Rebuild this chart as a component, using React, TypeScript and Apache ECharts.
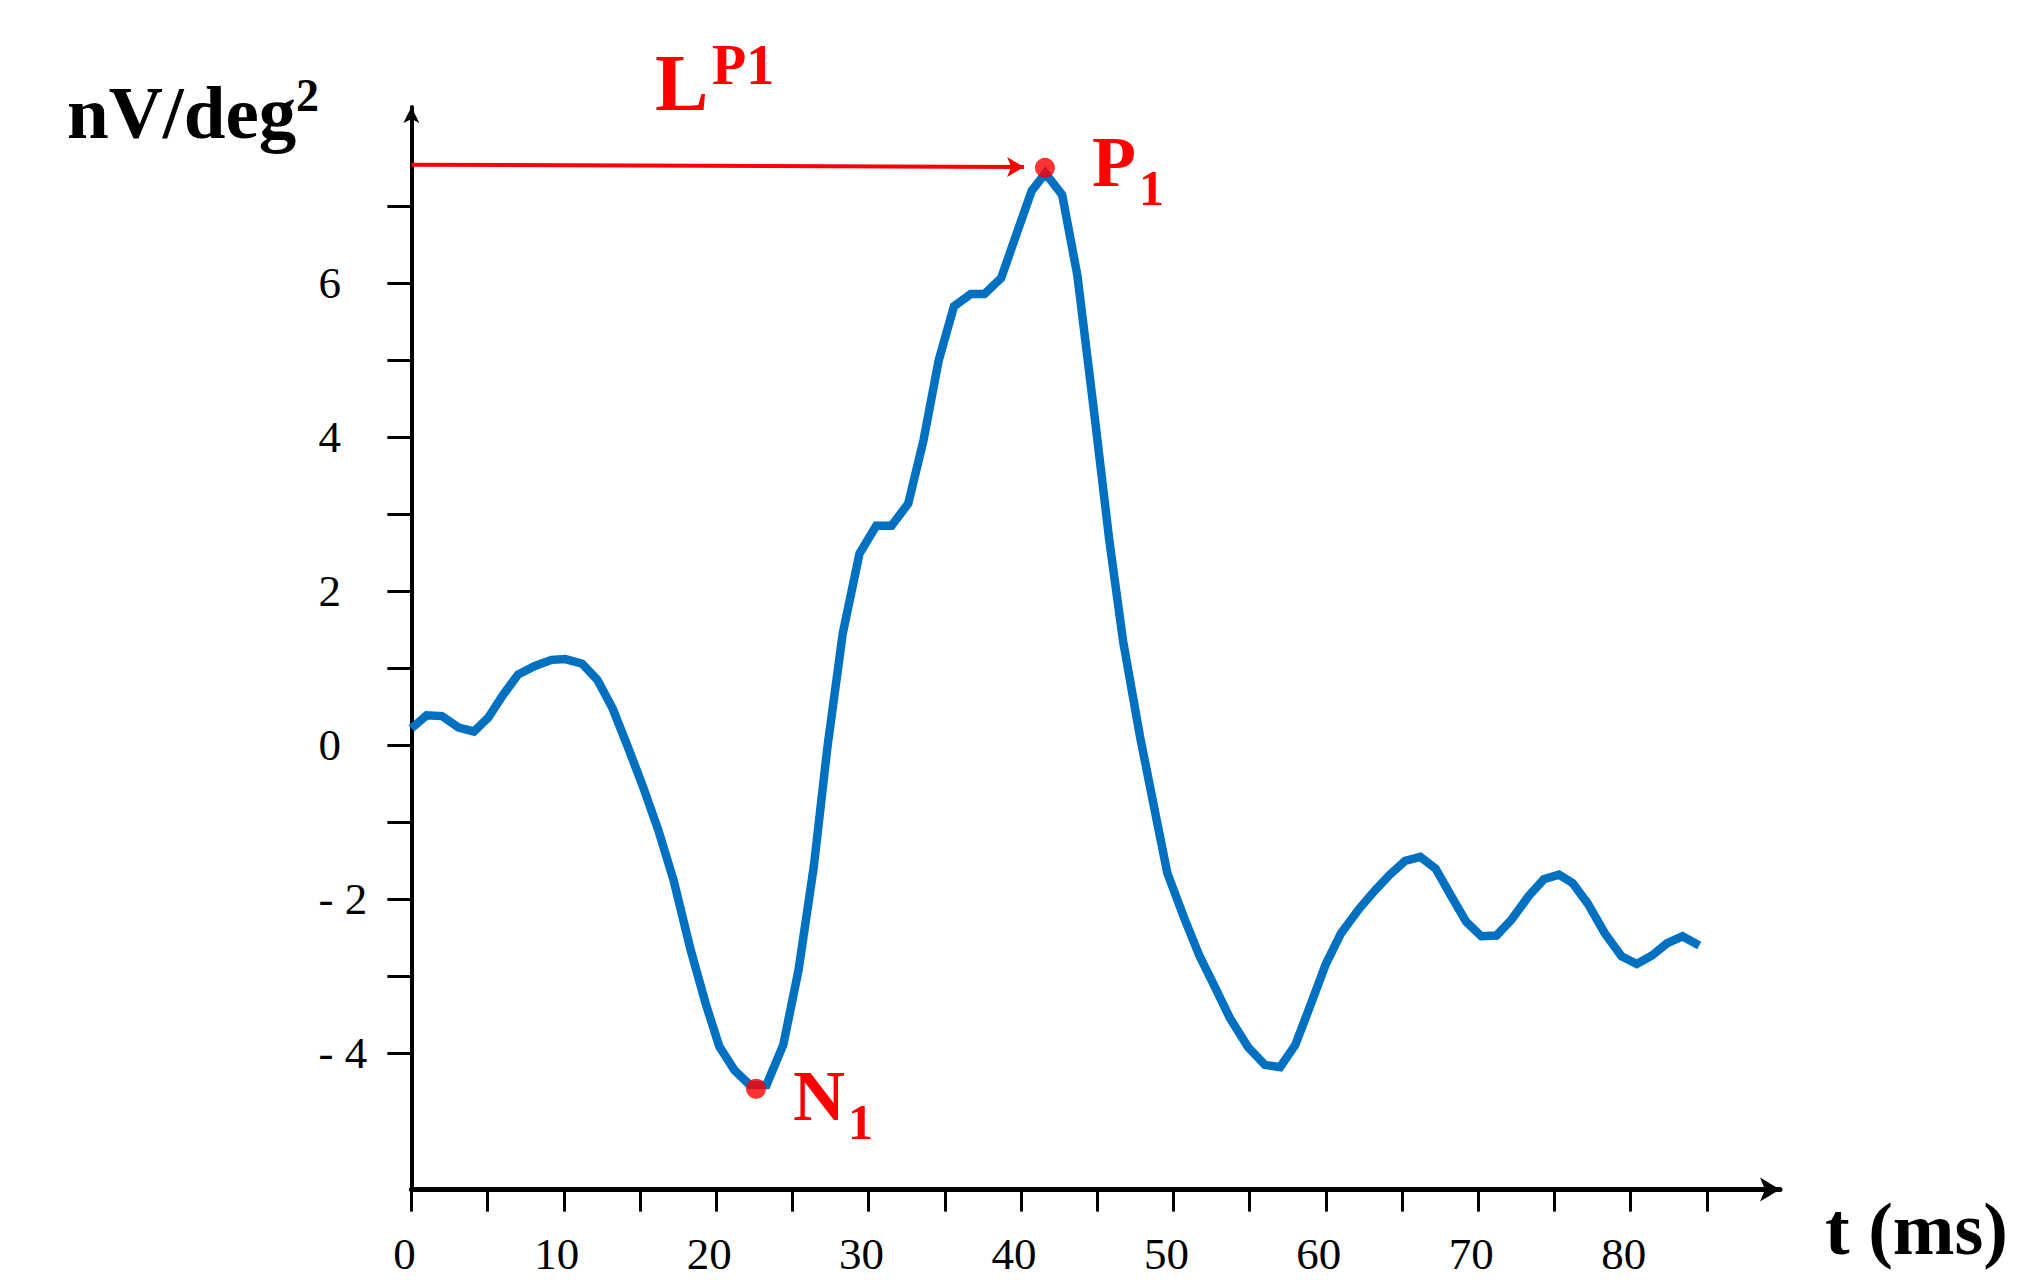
import React, { useEffect, useRef } from "react";
import * as echarts from "echarts";

// time (ms) of each sample
const times = [
  0, 1.0, 2.0, 3.1, 4.1, 5.05, 6.0, 7.0, 8.1, 9.2, 10.1, 11.2, 12.2, 13.2, 14.2,
  15.2, 16.2, 17.2, 18.3, 19.3, 20.2, 21.2, 22.2, 23.3, 24.4, 25.4, 26.4, 27.3,
  28.3, 29.4, 30.5, 31.5, 32.6, 33.6, 34.6, 35.6, 36.7, 37.6, 38.7, 39.7, 40.7,
  41.6, 42.7, 43.7, 44.8, 45.8, 46.7, 47.8, 48.8, 49.6, 50.7, 51.7, 52.7, 53.7,
  54.9, 56.0, 57.0, 58.0, 59.0, 60.0, 61.0, 62.2, 63.2, 64.2, 65.2, 66.2, 67.2,
  68.2, 69.2, 70.2, 71.2, 72.2, 73.3, 74.3, 75.3, 76.2, 77.2, 78.3, 79.4, 80.4,
  81.4, 82.4, 83.4, 84.5,
];

// amplitude (nV/deg²)
const values = [
  0.22, 0.39, 0.38, 0.23, 0.18, 0.36, 0.65, 0.92, 1.03, 1.11, 1.12, 1.06, 0.85,
  0.48, -0.02, -0.54, -1.1, -1.75, -2.64, -3.35, -3.91, -4.22, -4.41, -4.41,
  -3.89, -2.92, -1.58, -0.02, 1.45, 2.49, 2.85, 2.85, 3.14, 3.96, 5.0, 5.7,
  5.86, 5.86, 6.07, 6.64, 7.2, 7.43, 7.15, 6.1, 4.32, 2.65, 1.35, 0.12, -0.87,
  -1.66, -2.24, -2.73, -3.13, -3.54, -3.92, -4.15, -4.18, -3.89, -3.37, -2.84,
  -2.44, -2.12, -1.89, -1.68, -1.5, -1.45, -1.6, -1.95, -2.29, -2.48, -2.47,
  -2.26, -1.96, -1.74, -1.68, -1.79, -2.06, -2.44, -2.74, -2.84, -2.73, -2.57,
  -2.48, -2.6,
];

// marked peaks [t, amplitude]
const peakP1 = [41.57, 7.5];
const troughN1 = [22.61, -4.46];

// latency arrow endpoints [t, amplitude]
const latencyArrowStart = [0, 7.54];
const latencyArrowEnd = [40.2, 7.51];

// axis ticks & labels
const xTickValues = [0, 5, 10, 15, 20, 25, 30, 35, 40, 45, 50, 55, 60, 65, 70, 75, 80, 85];
const xLabelValues = [0, 10, 20, 30, 40, 50, 60, 70, 80];
const yTickValues = [-4, -3, -2, -1, 0, 1, 2, 3, 4, 5, 6, 7];
const yLabelValues = [-4, -2, 0, 2, 4, 6];

const SERIF = '"Liberation Serif", "Times New Roman", serif';
const RED = "#FF0000";

export default function App() {
  const ref = useRef<HTMLDivElement>(null);

  useEffect(() => {
    const chart = echarts.init(ref.current!, null, { renderer: "svg" });

    const txt = (
      text: string,
      x: number,
      y: number,
      size: number,
      color: string
    ) => ({
      type: "text",
      x,
      y,
      silent: true,
      style: {
        text,
        fontFamily: SERIF,
        fontWeight: "bold",
        fontSize: size,
        fill: color,
        align: "left",
        verticalAlign: "middle",
      },
    });

    chart.setOption({
      animation: false,
      backgroundColor: "#ffffff",
      grid: { left: 411.4, top: 107, right: 255, bottom: 90.4, containLabel: false },
      xAxis: {
        type: "value",
        min: 0,
        max: 89.8,
        splitLine: { show: false },
        axisLine: {
          show: true,
          onZero: false,
          symbol: ["none", "arrow"],
          symbolSize: [18, 20],
          lineStyle: { color: "#000", width: 5 },
        },
        axisTick: {
          show: true,
          customValues: xTickValues,
          length: 22,
          lineStyle: { color: "#000", width: 3 },
        },
        axisLabel: {
          show: true,
          customValues: xLabelValues,
          margin: 42,
          fontSize: 45,
          fontFamily: SERIF,
          color: "#000",
          padding: [0, 14, 0, 0],
        },
      },
      yAxis: {
        type: "value",
        min: -5.77,
        max: 8.29,
        splitLine: { show: false },
        axisLine: {
          show: true,
          onZero: false,
          symbol: ["none", "arrow"],
          symbolSize: [12, 16],
          lineStyle: { color: "#000", width: 4 },
        },
        axisTick: {
          show: true,
          customValues: yTickValues,
          length: 24,
          lineStyle: { color: "#000", width: 3 },
        },
        axisLabel: {
          show: true,
          customValues: yLabelValues,
          align: "left",
          margin: 93,
          fontSize: 45,
          fontFamily: SERIF,
          color: "#000",
          formatter: (v: number) => (v < 0 ? "- " + Math.abs(v) : String(v)),
        },
      },
      series: [
        {
          type: "line",
          data: times.map((t, i) => [t, values[i]]),
          showSymbol: false,
          symbol: "none",
          lineStyle: { color: "#0070C0", width: 8.5, join: "miter", cap: "butt" },
          z: 3,
        },
        {
          type: "scatter",
          data: [peakP1, troughN1],
          symbolSize: 20,
          itemStyle: { color: RED },
          z: 5,
          markLine: {
            silent: true,
            symbol: ["none", "arrow"],
            symbolSize: [15, 17],
            label: { show: false },
            lineStyle: { color: RED, width: 4, type: "solid" },
            data: [
              [
                { coord: latencyArrowStart },
                { coord: latencyArrowEnd },
              ],
            ],
          },
        },
      ],
      graphic: [
        txt("nV/deg", 67, 138 - 0.34 * 75, 75, "#000"),
        txt("2", 296, 111 - 0.34 * 46, 46, "#000"),
        txt("L", 655, 110 - 0.34 * 80, 80, RED),
        txt("P1", 712, 84 - 0.34 * 56, 56, RED),
        txt("P", 1092, 186 - 0.34 * 72, 72, RED),
        txt("1", 1139, 205 - 0.34 * 50, 50, RED),
        txt("N", 793, 1120 - 0.34 * 72, 72, RED),
        txt("1", 848, 1139 - 0.34 * 50, 50, RED),
        txt("t (ms)", 1825, 1254 - 0.34 * 74, 74, "#000"),
      ],
    });

    return () => chart.dispose();
  }, []);

  return (
    <div
      ref={ref}
      style={{ position: "fixed", left: 0, top: 0, width: 2035, height: 1280, background: "#fff" }}
    />
  );
}
